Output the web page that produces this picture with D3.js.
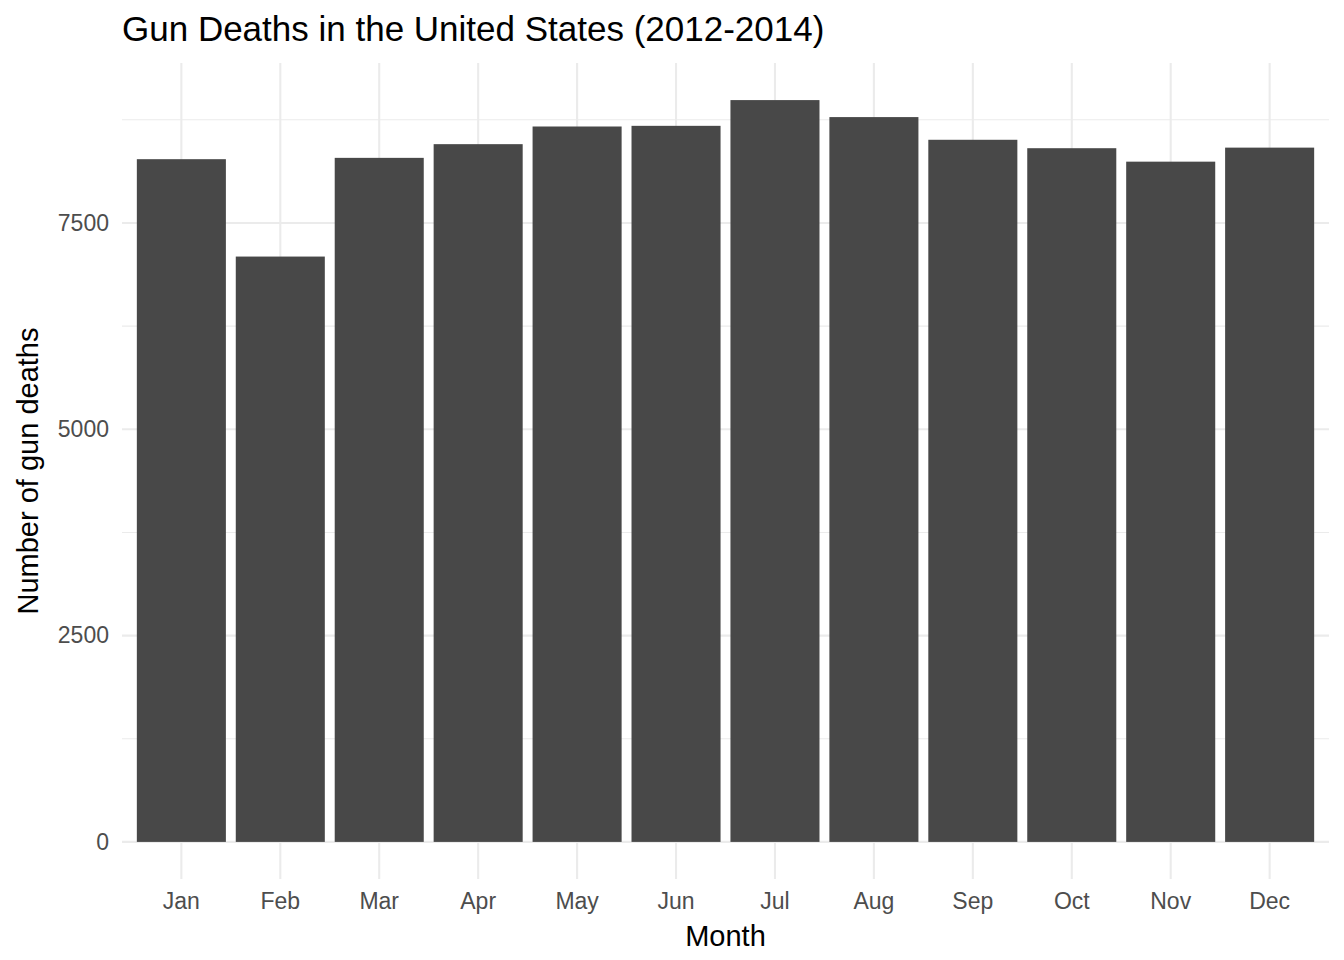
<!DOCTYPE html>
<html>
<head>
<meta charset="utf-8">
<script src="https://cdn.jsdelivr.net/npm/d3@7"></script>
<style>
  body { margin: 0; background: #fff; }
  text { font-family: "Liberation Sans", Arial, sans-serif; }
</style>
</head>
<body>
<svg id="chart" width="1344" height="960"></svg>
<script>
var months = ['Jan', 'Feb', 'Mar', 'Apr', 'May', 'Jun', 'Jul', 'Aug', 'Sep', 'Oct', 'Nov', 'Dec'];
var deaths = [8273, 7093, 8289, 8455, 8669, 8677, 8989, 8783, 8508, 8406, 8243, 8413];
var majorTicks = [0, 2500, 5000, 7500];
var minorTicks = [1250, 3750, 6250, 8750];

(function() {
  var svg = d3.select('#chart');
  var pLeft = 122, pRight = 1329, pTop = 63, pBottom = 879;
  var font = '"Liberation Sans", Arial, sans-serif';

  // ggplot-style expansion: discrete 0.6 units each side, continuous 5%
  var n = months.length;
  var step = (pRight - pLeft) / (n - 1 + 1.2);
  var x = d3.scaleBand().domain(months)
    .range([pLeft + 0.1 * step, pRight - 0.1 * step])
    .paddingInner(0.1).paddingOuter(0.05);
  var yMax = d3.max(deaths);
  var y = d3.scaleLinear().domain([-0.05 * yMax, 1.05 * yMax]).range([pBottom, pTop]);

  var grid = svg.append('g');
  grid.selectAll('line.minor').data(minorTicks).enter().append('line')
    .attr('x1', pLeft).attr('x2', pRight)
    .attr('y1', function(d) { return y(d); }).attr('y2', function(d) { return y(d); })
    .attr('stroke', '#ebebeb').attr('stroke-width', 1.1);
  grid.selectAll('line.major').data(majorTicks).enter().append('line')
    .attr('x1', pLeft).attr('x2', pRight)
    .attr('y1', function(d) { return y(d); }).attr('y2', function(d) { return y(d); })
    .attr('stroke', '#ebebeb').attr('stroke-width', 2.1);
  grid.selectAll('line.vx').data(months).enter().append('line')
    .attr('x1', function(d) { return x(d) + x.bandwidth() / 2; })
    .attr('x2', function(d) { return x(d) + x.bandwidth() / 2; })
    .attr('y1', pTop).attr('y2', pBottom)
    .attr('stroke', '#ebebeb').attr('stroke-width', 2.1);

  svg.append('g').selectAll('rect').data(deaths).enter().append('rect')
    .attr('x', function(d, i) { return x(months[i]); })
    .attr('width', x.bandwidth())
    .attr('y', function(d) { return y(d); })
    .attr('height', function(d) { return y(0) - y(d); })
    .attr('fill', '#484848');

  var yAxis = svg.append('g').attr('transform', 'translate(' + pLeft + ',0)')
    .call(d3.axisLeft(y).tickValues(majorTicks).tickSize(0).tickPadding(13).tickFormat(d3.format('d')));
  yAxis.select('.domain').remove();
  yAxis.selectAll('text').attr('font-size', 23).attr('fill', '#4d4d4d').style('font-family', font);

  var xAxis = svg.append('g').attr('transform', 'translate(0,' + pBottom + ')')
    .call(d3.axisBottom(x).tickSize(0).tickPadding(14));
  xAxis.select('.domain').remove();
  xAxis.selectAll('text').attr('font-size', 23).attr('fill', '#4d4d4d').style('font-family', font);

  svg.append('text').attr('x', pLeft).attr('y', 41)
    .attr('font-size', 35).attr('fill', '#000')
    .text('Gun Deaths in the United States (2012-2014)');

  svg.append('text').attr('x', (pLeft + pRight) / 2).attr('y', 946)
    .attr('text-anchor', 'middle').attr('font-size', 29).attr('fill', '#000')
    .text('Month');

  svg.append('text').attr('transform', 'translate(38,' + ((pTop + pBottom) / 2) + ')rotate(-90)')
    .attr('text-anchor', 'middle').attr('font-size', 29).attr('fill', '#000')
    .text('Number of gun deaths');
})();
</script>
</body>
</html>
